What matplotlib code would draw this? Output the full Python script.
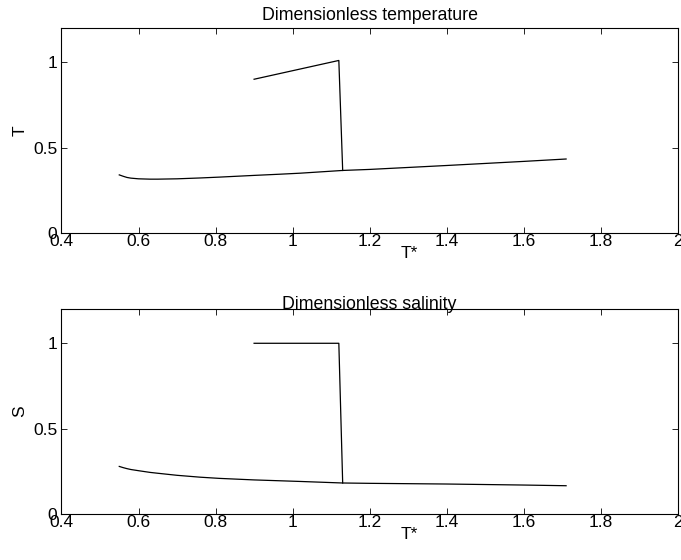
import matplotlib
matplotlib.use('Agg')
import matplotlib.pyplot as plt

# lower (stable) branch
tstar_low = [0.55, 0.56, 0.57, 0.58, 0.60, 0.63, 0.65, 0.70, 0.76, 0.81, 0.90, 0.967, 1.02, 1.13,
             1.2, 1.4, 1.6, 1.71]
temp_low = [0.340, 0.332, 0.325, 0.321, 0.317, 0.315, 0.315, 0.317, 0.322, 0.327, 0.337, 0.344,
            0.350, 0.366, 0.372, 0.395, 0.419, 0.433]
sal_low = [0.279, 0.272, 0.266, 0.261, 0.254, 0.244, 0.239, 0.227, 0.216, 0.209, 0.200, 0.195,
           0.191, 0.182, 0.180, 0.176, 0.170, 0.166]

# upper branch that drops onto the lower one
tstar_up = [0.9, 1.12, 1.13]
temp_up = [0.90, 1.01, 0.366]
sal_up = [1.0, 1.0, 0.182]

xticks = [0.4, 0.6, 0.8, 1.0, 1.2, 1.4, 1.6, 1.8, 2.0]
xticklabels = ['0.4', '0.6', '0.8', '1', '1.2', '1.4', '1.6', '1.8', '2']
yticks = [0, 0.5, 1]
yticklabels = ['0', '0.5', '1']

plt.rcParams['font.family'] = ['Liberation Sans', 'DejaVu Sans']

fig = plt.figure(figsize=(6.81, 5.6), dpi=100)
ax1 = fig.add_axes([0.0903, 0.584, 0.905, 0.366])
ax2 = fig.add_axes([0.0903, 0.082, 0.905, 0.366])

panels = [
    (ax1, temp_low, temp_up, 'T', 'Dimensionless temperature', 6),
    (ax2, sal_low, sal_up, 'S', 'Dimensionless salinity', 0),
]
for ax, ylow, yup, ylab, title, tpad in panels:
    ax.plot(tstar_low, ylow, color='black', linewidth=0.9)
    ax.plot(tstar_up, yup, color='black', linewidth=0.9)
    ax.set_xlim(0.4, 2.0)
    ax.set_ylim(0, 1.2)
    ax.set_xticks(xticks)
    ax.set_xticklabels(xticklabels)
    ax.set_yticks(yticks)
    ax.set_yticklabels(yticklabels)
    ax.tick_params(direction='in', top=True, right=True, length=4, width=0.6,
                   labelsize=12.5)
    ax.tick_params(axis='x', pad=1)
    ax.tick_params(axis='y', pad=3)
    for s in ax.spines.values():
        s.set_linewidth(0.8)
    ax.set_xlabel('T*', fontsize=12.5)
    ax.xaxis.set_label_coords(0.565, -0.065, transform=ax.transAxes)
    ax.xaxis.label.set_va('top')
    ax.set_ylabel(ylab, fontsize=12.5, labelpad=4)
    ax.set_title(title, fontsize=12.8, pad=tpad)

fig.savefig('out.png', dpi=100)
